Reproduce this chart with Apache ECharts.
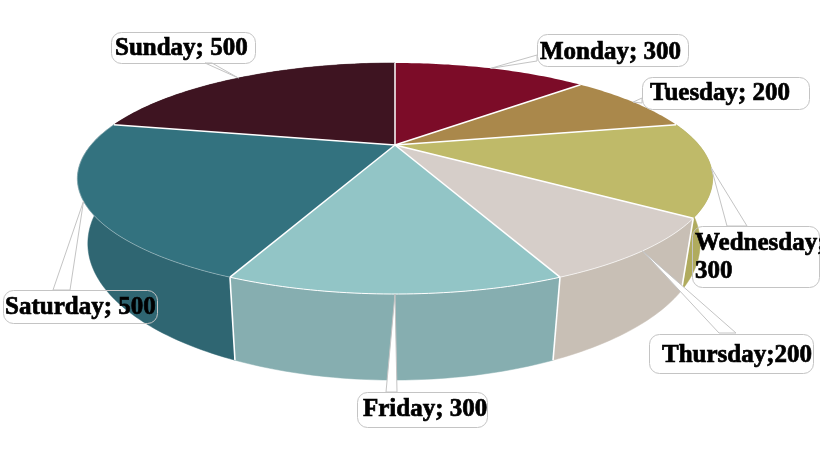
<!DOCTYPE html>
<html>
<head>
<meta charset="utf-8">
<style>html,body{margin:0;padding:0;background:#fff}#chart{width:820px;height:461px}</style>
<script src="https://cdn.jsdelivr.net/npm/echarts@6/dist/echarts.min.js"></script>
</head>
<body>
<div id="chart"></div>
<script>
// ---- data ----
const categories = ['Monday','Tuesday','Wednesday','Thursday','Friday','Saturday','Sunday'];
const values = [300,200,300,200,300,500,500];
const labelLines = [['Monday; 300'],['Tuesday; 200'],['Wednesday;','300'],['Thursday;200'],['Friday; 300'],['Saturday; 500'],['Sunday; 500']];
// ---- styles ----
const topColors  = ['#7c0c28','#aa884b','#bfba69','#d6cec9','#92c5c6','#33727f','#3e1421'];
const sideColors = ['#6e0a23','#977842','#b0ab5e','#c8bfb5','#86aeb0','#2f6672','#37121d'];
const rimOpacity = [0,0,0,0.7,1,0.35,0];
// ---- layout: label boxes [x0,y0,x1,y1], text x and first baseline; leader feet ----
const boxes = [[537,34,688,66],[642,77,809,109],[692,226,819,287],[649,334,813,373],[357,392,487,427],[3,290,157,323],[111,32,255,63]];
const textPos = [[540,58],[650,99],[695,249],[662,361],[363,415],[5,313],[115,54]];
const feet = [[[537,55],[537,61]],[[642,98],[642,103]],[[727,226],[747,226]],[[719,333],[736,333]],[[386,392],[397,392]],[[53,290],[70,290]],[[205,63],[212,63]]];
const FONT_SIZE = 25, LINE_H = 28, DESCENT = 7.5;
// ---- perspective disc projection ----
const total = values.reduce((a,b)=>a+b,0);
const K = 0.29;
const TOP = {cx:395, cy:145, b:304, a:105.8};
const BOT = {cx:394, cy:204, b:293, a:125};
function proj(ring, deg){
  const t = deg*Math.PI/180, u = Math.sin(t), v = Math.cos(t), w = 1+K*v;
  return [ring.cx + ring.b*u/w, ring.cy - ring.a*v/w];
}
function arc(ring, d0, d1){
  const n = Math.max(2, Math.ceil(Math.abs(d1-d0)));
  const pts = [];
  for(let i=0;i<=n;i++) pts.push(proj(ring, d0+(d1-d0)*i/n));
  return pts;
}
function sliceAngles(i){
  let s = 0;
  for(let j=0;j<i;j++) s += values[j];
  return [echarts.number.linearMap(s,[0,total],[0,360]), echarts.number.linearMap(s+values[i],[0,total],[0,360])];
}
const rows = values.map((v,i)=>[i,v]);
function line(points, stroke, width, opacity){
  return {type:'polyline', shape:{points}, silent:true,
    style:{stroke, lineWidth:width, fill:null, opacity: opacity==null?1:opacity}};
}
function renderSide(p, api){
  const i = api.value(0), [a0,a1] = sliceAngles(i);
  if((a0<90 && a1<90) || a0>300) return {type:'group',children:[]};
  const poly = arc(TOP,a0,a1).concat(arc(BOT,a1,a0));
  return {type:'polygon', shape:{points:poly}, style:{fill:sideColors[i], stroke:sideColors[i], lineWidth:0.5}};
}
function renderEdges(p, api){
  const i = api.value(0), [a0,a1] = sliceAngles(i);
  const kids = [];
  if(a1>110 && a1<250) kids.push(line([proj(TOP,a1),proj(BOT,a1)],'#ffffff',1.6));
  return {type:'group',children:kids};
}
function renderTop(p, api){
  const i = api.value(0), [a0,a1] = sliceAngles(i);
  const rim = arc(TOP,a0,a1);
  const c = [TOP.cx,TOP.cy];
  const kids = [{type:'polygon', shape:{points:[c].concat(rim)}, style:{fill:topColors[i]}}];
  if(rimOpacity[i]>0) kids.push(line(rim,'#ffffff',1,rimOpacity[i]));
  return {type:'group',children:kids};
}
function renderSpoke(p, api){
  const i = api.value(0), [a0] = sliceAngles(i);
  return line([[TOP.cx,TOP.cy],proj(TOP,a0)],'#ffffff',1.5);
}
function renderLeader(p, api){
  const i = api.value(0), [a0,a1] = sliceAngles(i);
  const tip = proj(TOP,(a0+a1)/2);
  const [f0,f1] = feet[i];
  return {type:'polygon', shape:{points:[f0,tip,f1]}, silent:true,
    style:{fill:'#ffffff', stroke:'#c4c4c4', lineWidth:1}};
}
function renderLabel(p, api){
  const i = api.value(0), b = boxes[i], [tx,ty] = textPos[i];
  const kids = [{type:'rect', shape:{x:b[0]+0.5,y:b[1]+0.5,width:b[2]-b[0],height:b[3]-b[1],r:10},
    style:{fill:'rgba(255,255,255,0)', stroke:'#c4c4c4', lineWidth:1}}];
  labelLines[i].forEach((t,n)=>kids.push({type:'text', style:{
    x:tx, y:ty+n*LINE_H+DESCENT, text:t, fill:'#000', stroke:'#000', lineWidth:0.7,
    font:'bold '+FONT_SIZE+'px "Liberation Serif"', align:'left', verticalAlign:'bottom'}}));
  return {type:'group',children:kids};
}
function layer(fn,z){
  return {type:'custom', name:'layer'+z, coordinateSystem:'none', data:rows, z, renderItem:fn,
    silent:true, animation:false, clip:false, encode:{value:1}};
}
const chart = echarts.init(document.getElementById('chart'),null,{renderer:'canvas'});
chart.setOption({
  backgroundColor:'#ffffff',
  animation:false,
  series:[layer(renderSide,1),layer(renderEdges,2),layer(renderTop,3),layer(renderSpoke,4),layer(renderLeader,5),layer(renderLabel,6)]
});
</script>
</body>
</html>
